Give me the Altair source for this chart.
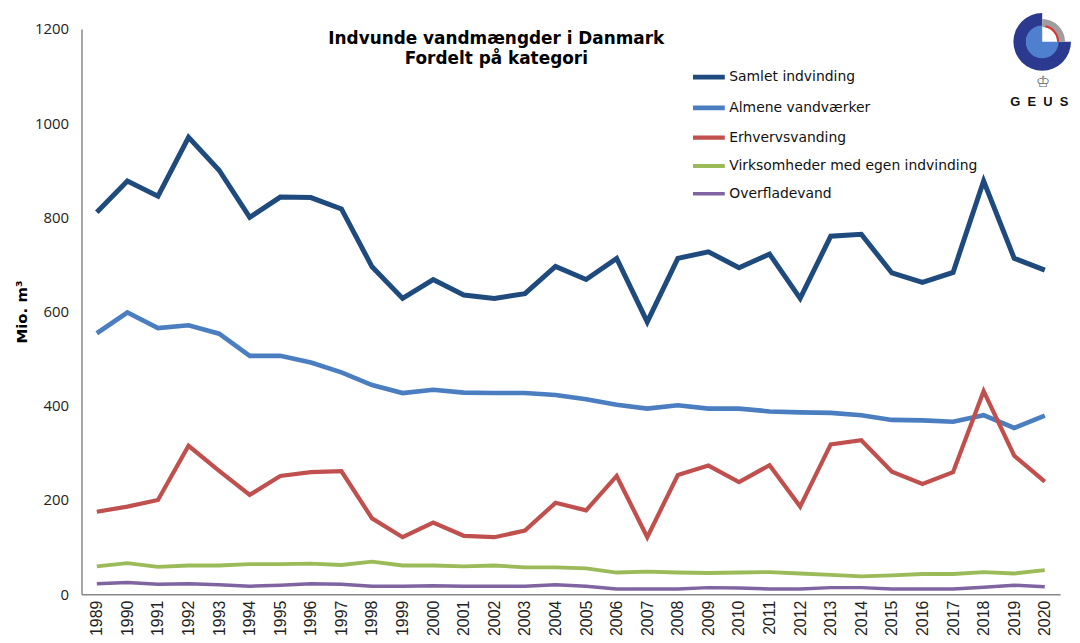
import altair as alt
import pandas as pd

years = list(range(1989, 2021))
series_names = [
    "Samlet indvinding",
    "Almene vandværker",
    "Erhvervsvanding",
    "Virksomheder med egen indvinding",
    "Overfladevand",
]
colors = ["#1f4a7e", "#4a7ec0", "#c0504d", "#9bbb59", "#8064a2"]
widths = [5, 3.5, 3.5, 3.5, 3.5]

samlet = [811, 877, 845, 970, 900, 800, 843, 842, 818, 695, 628, 668, 635, 628, 638, 696,
          668, 713, 578, 713, 727, 693, 722, 628, 760, 764, 682, 662, 683, 877, 713, 688]
almene = [554, 598, 565, 571, 553, 506, 506, 492, 471, 444, 427, 434, 428, 427, 427, 423,
          414, 402, 394, 401, 394, 394, 388, 386, 385, 380, 370, 369, 366, 380, 353, 379]
erhverv = [175, 186, 200, 315, 262, 211, 251, 259, 261, 161, 121, 152, 124, 121, 135, 194,
           178, 251, 121, 253, 273, 238, 274, 186, 318, 327, 260, 234, 259, 431, 294, 239]
virksomheder = [59, 66, 58, 61, 61, 64, 64, 65, 62, 69, 61, 61, 59, 61, 57, 57,
                55, 46, 48, 46, 45, 46, 47, 44, 41, 38, 40, 43, 43, 47, 44, 51]
overflade = [22, 25, 21, 22, 20, 17, 19, 22, 21, 17, 17, 18, 17, 17, 17, 20,
             17, 11, 11, 11, 14, 13, 11, 11, 14, 14, 11, 11, 11, 15, 19, 16]

y_ticks = [0, 200, 400, 600, 800, 1000, 1200]

rows = []
for name, vals in zip(series_names, [samlet, almene, erhverv, virksomheder, overflade]):
    for yr, v in zip(years, vals):
        rows.append({"År": str(yr), "Serie": name, "Værdi": v})
df = pd.DataFrame(rows)

W, H = 985, 569

lines = alt.Chart(df).mark_line(strokeJoin="miter", strokeCap="butt").encode(
    x=alt.X("År:O", scale=alt.Scale(type="point", padding=0.5),
            axis=alt.Axis(title=None, labelAngle=-90, labelFont="Liberation Sans",
                          labelFontSize=16, labelColor="#222", labelPadding=6,
                          ticks=False, domainColor="#888", domainWidth=1.5)),
    y=alt.Y("Værdi:Q", scale=alt.Scale(domain=[0, 1200], nice=False),
            axis=alt.Axis(title="Mio. m³", values=y_ticks, format="d", grid=False, ticks=False,
                          labelFont="Open Sans", labelFontSize=15, labelColor="#222",
                          labelPadding=13, domainColor="#888", domainWidth=1.5,
                          titleFont="DejaVu Sans", titleFontSize=15, titleFontWeight="bold",
                          titleColor="#000", titlePadding=5)),
    color=alt.Color("Serie:N", sort=series_names,
                    scale=alt.Scale(domain=series_names, range=colors),
                    legend=alt.Legend(title=None, orient="none", legendX=613, legendY=30,
                                      symbolType="stroke", symbolSize=1024,
                                      symbolStrokeWidth=4, labelFont="DejaVu Sans",
                                      labelFontSize=14, labelColor="#111",
                                      labelOffset=2, rowPadding=2, labelLimit=400)),
    strokeWidth=alt.StrokeWidth("Serie:N", scale=alt.Scale(domain=series_names, range=widths),
                                legend=None),
    order=alt.Order("År:O"),
)

one = pd.DataFrame({"k": [0]})
cx, cy = 967, 13
logo_ring = alt.Chart(one).mark_arc(theta=1.5708, theta2=6.2832, radius=29, radius2=16,
                                     color="#2b3a8f").encode(x=alt.value(cx), y=alt.value(cy))
logo_disc = alt.Chart(one).mark_arc(theta=1.5708, theta2=6.2832, radius=16.5,
                                     color="#4f7fcf").encode(x=alt.value(cx), y=alt.value(cy))
logo_grey = alt.Chart(one).mark_arc(theta=0, theta2=1.5708, radius=23, radius2=15,
                                     color="#9e9e9e").encode(x=alt.value(cx), y=alt.value(cy))
logo_red = alt.Chart(one).mark_arc(theta=0.2, theta2=1.5708, radius=17, radius2=15,
                                    color="#e03030").encode(x=alt.value(cx), y=alt.value(cy))
crown = alt.Chart(one).mark_text(text="♔", font="DejaVu Sans", fontSize=16,
                                 color="#666").encode(x=alt.value(cx + 1), y=alt.value(53))
geus = alt.Chart(one).mark_text(text="G\u00a0\u00a0E\u00a0\u00a0U\u00a0\u00a0S",
                                font="Liberation Sans", fontSize=13, fontWeight="bold",
                                color="#111").encode(x=alt.value(cx - 3), y=alt.value(74))

chart = alt.layer(lines, logo_ring, logo_disc, logo_grey, logo_red, crown, geus).properties(
    width=W, height=H,
    title=alt.TitleParams(
        text=["Indvunde vandmængder i Danmark", "Fordelt på kategori"],
        font="DejaVu Sans", fontSize=17, fontWeight="bold", color="#000",
        anchor="middle", dx=-75, dy=59, lineHeight=20,
    ),
    padding={"left": 74, "top": 19, "right": 12, "bottom": 40},
    autosize=alt.AutoSizeParams(type="none"),
).configure_view(stroke=None)

chart.save("out.html", embed_options={"renderer": "svg", "actions": False})
